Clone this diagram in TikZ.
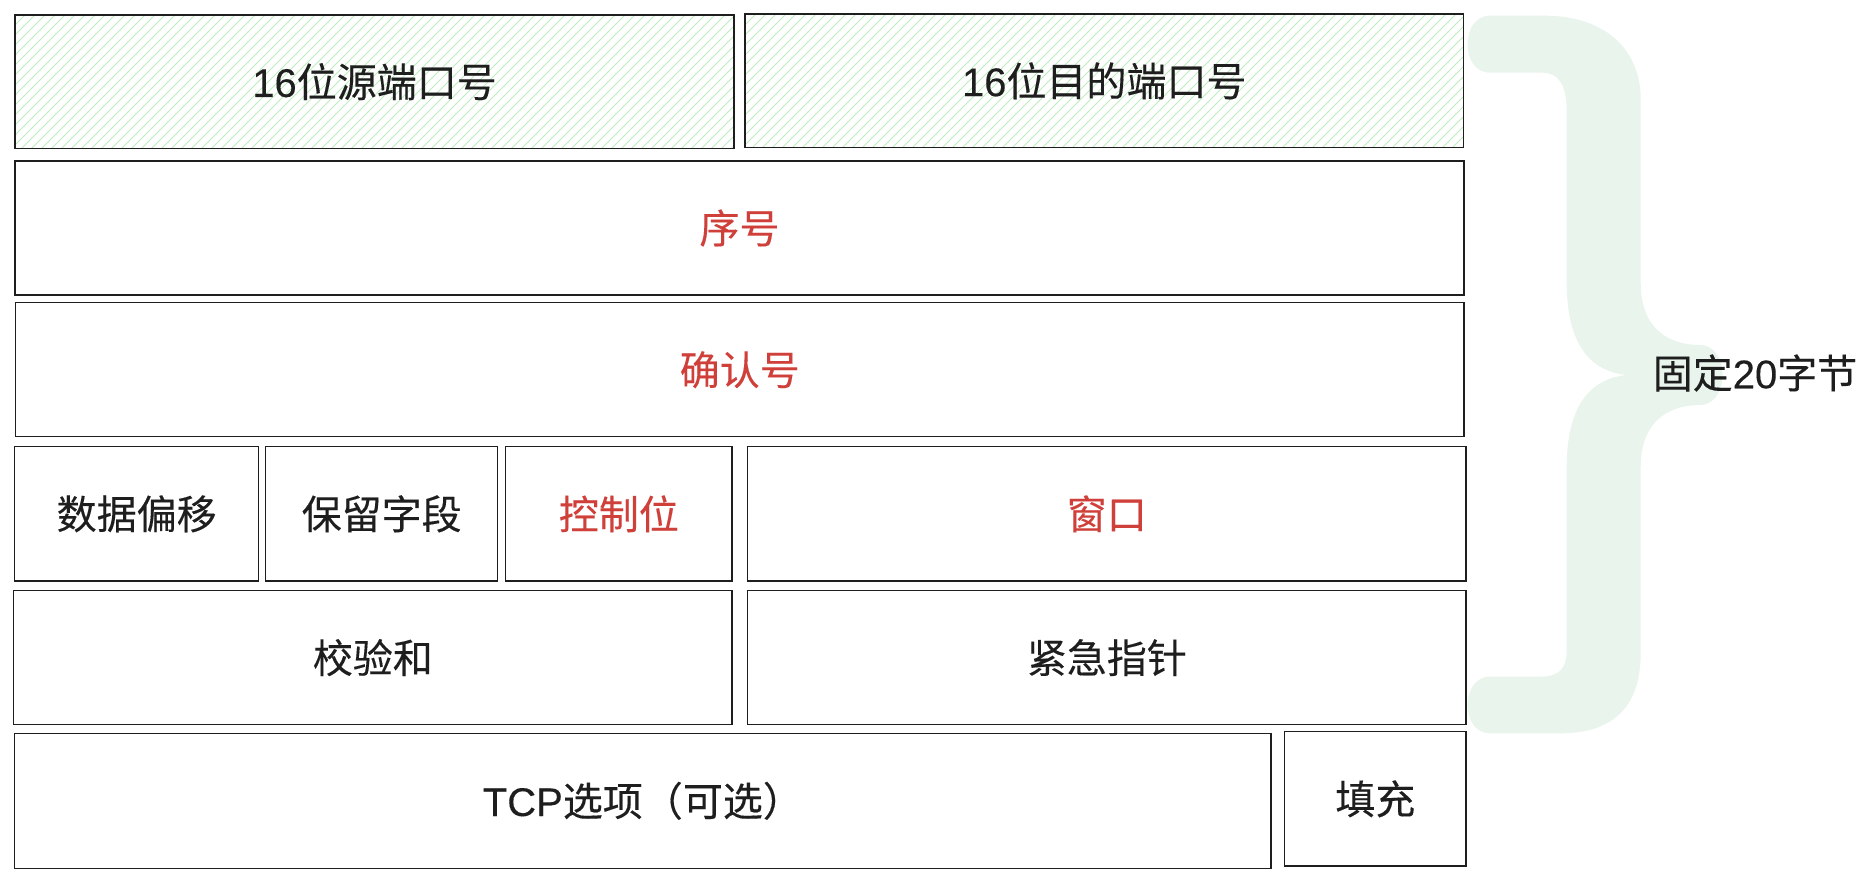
\documentclass[tikz,border=0pt]{standalone}
\usepackage{fontspec}
\setmainfont{Liberation Sans}[FakeBold=0.25]
\newfontfamily\cjk{Noto Sans CJK SC}[FakeBold=0.25]
\usetikzlibrary{backgrounds}
\definecolor{ink}{RGB}{30,30,30}
\definecolor{redt}{RGB}{208,64,58}
\definecolor{hatchc}{RGB}{190,236,190}
\definecolor{bracec}{RGB}{233,244,236}
\begin{document}
\begin{tikzpicture}[x=0.5pt,y=-0.5pt,
  box/.style={draw=ink, line width=0.75pt, inner sep=0pt, outer sep=0pt,
              font=\fontsize{20}{24}\selectfont, text=ink},
  redlabel/.style={text=redt},
  hatchline/.style={draw=hatchc, line width=0.45pt},
  bracelabel/.style={font=\fontsize{20}{24}\selectfont, text=ink, inner sep=0pt}]
\useasboundingbox (0,0) rectangle (1868,878);

% fields
\node[box, minimum width=359.5pt, minimum height=66.65pt] (src) at (374.5,81.65) {16{\cjk 位源端口号}};
\node[box, minimum width=359.25pt, minimum height=66.85pt] (dst) at (1104.25,80.85) {16{\cjk 位目的端口号}};
\node[box, redlabel, minimum width=724.5pt, minimum height=67pt] (seq) at (739.5,228) {\cjk 序号};
\node[box, redlabel, minimum width=724.25pt, minimum height=67pt] (ack) at (739.75,369.7) {\cjk 确认号};
\node[box, minimum width=122pt, minimum height=67.15pt] (off) at (136.7,513.85) {\cjk 数据偏移};
\node[box, minimum width=116pt, minimum height=67.15pt] (res) at (381.7,513.85) {\cjk 保留字段};
\node[box, redlabel, minimum width=113.15pt, minimum height=67.15pt] (ctl) at (618.85,513.85) {\cjk 控制位};
\node[box, redlabel, minimum width=359.15pt, minimum height=67.15pt] (win) at (1106.85,513.85) {\cjk 窗口};
\node[box, minimum width=359.15pt, minimum height=66.9pt] (chk) at (372.85,657.6) {\cjk 校验和};
\node[box, minimum width=359.15pt, minimum height=66.9pt] (urg) at (1106.85,657.6) {\cjk 紧急指针};
\node[box, minimum width=628.15pt, minimum height=67.5pt] (opt) at (642.85,800.8) {TCP{\cjk 选项（可选）}};
\node[box, minimum width=90.65pt, minimum height=67.15pt] (pad) at (1375.35,798.85) {\cjk 填充};

\begin{scope}[on background layer]
  % hatch of the two port fields
  \begin{scope}
    \clip (src.south west) rectangle (src.north east)
          (dst.south west) rectangle (dst.north east);
    \foreach \i in {-140,-130,...,1470}
      \draw[hatchline] (\i,150) -- ++(136,-136);
  \end{scope}
  % curly brace
  \fill[bracec] (1490,15.7) -- (1545,15.7)
    .. controls (1600,15.7) and (1640.7,45) .. (1640.7,100)
    -- (1640.7,283)
    .. controls (1640.7,330) and (1670,345) .. (1700,345)
    .. controls (1730,345) and (1730,405) .. (1700,405)
    .. controls (1670,405) and (1640.7,420) .. (1640.7,467)
    -- (1640.7,653)
    .. controls (1640.7,710) and (1610,733.3) .. (1560,733.3)
    -- (1490,733.3)
    .. controls (1460,733.3) and (1460,676.7) .. (1490,676.7)
    -- (1540,676.7)
    .. controls (1560,676.7) and (1566.7,668) .. (1566.7,650)
    -- (1566.7,467)
    .. controls (1566.7,400) and (1595,378) .. (1626.7,375)
    .. controls (1595,372) and (1566.7,350) .. (1566.7,283)
    -- (1566.7,110)
    .. controls (1566.7,85) and (1558,72.7) .. (1543,72.7)
    -- (1490,72.7)
    .. controls (1460,72.7) and (1460,15.7) .. (1490,15.7) -- cycle;
\end{scope}

\node[bracelabel] (lbl) at (1755,373) {{\cjk 固定}20{\cjk 字节}};
\end{tikzpicture}
\end{document}
